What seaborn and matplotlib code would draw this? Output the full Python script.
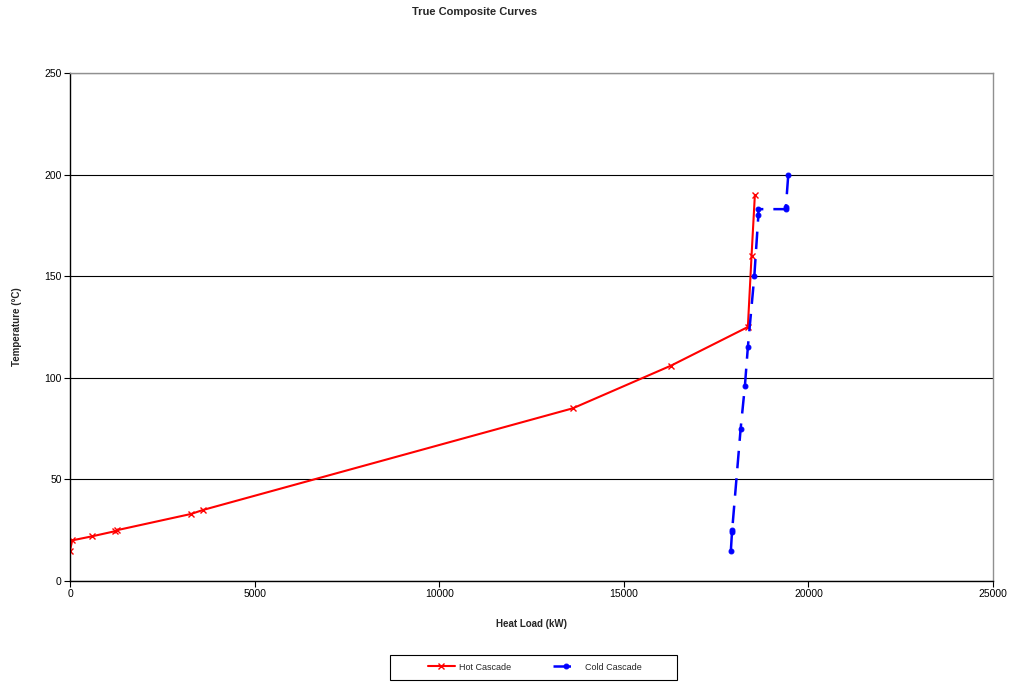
import matplotlib
matplotlib.use("Agg")
import matplotlib.pyplot as plt
from matplotlib.patches import Rectangle
import seaborn as sns
import pandas as pd

# Hot composite curve (heat load kW, temperature °C)
hot_load = [0, 60, 600, 1220, 1270, 3280, 3610, 13620, 16280, 18360, 18460, 18550]
hot_temp = [15, 20, 22, 24.5, 25, 33, 35, 85, 106, 125, 160, 190]

# Cold composite curve
cold_load = [17900, 17930, 17935, 18165, 18280, 18360, 18535, 18645, 18645, 19390, 19390, 19455]
cold_temp = [15, 24, 25, 75, 96, 115, 150, 180, 183, 183, 184, 200]

x_ticks = [0, 5000, 10000, 15000, 20000, 25000]
y_ticks = [0, 50, 100, 150, 200, 250]

sns.set_style("white")
plt.rcParams["font.family"] = ["Liberation Sans", "DejaVu Sans"]

hot = pd.DataFrame({"load": hot_load, "temp": hot_temp})
cold = pd.DataFrame({"load": cold_load, "temp": cold_temp})

fig = plt.figure(figsize=(10.09, 6.82), dpi=100)
ax = fig.add_axes([70 / 1009, 1 - 581 / 682, 923 / 1009, 508 / 682])

sns.lineplot(data=hot, x="load", y="temp", sort=False, estimator=None, ax=ax,
             color="#ff0000", linewidth=1.5, marker="x", markersize=5,
             markeredgewidth=1.0, markeredgecolor="#ff0000", label="Hot Cascade")
sns.lineplot(data=cold, x="load", y="temp", sort=False, estimator=None, ax=ax,
             color="#0000ff", linewidth=1.8, marker="o", markersize=3.5,
             markeredgecolor="#0000ff", label="Cold Cascade")
ax.lines[1].set_dashes([7, 4])

ax.set_xlim(0, 25000)
ax.set_ylim(0, 250)
ax.set_xticks(x_ticks)
ax.set_yticks(y_ticks)
ax.tick_params(axis="both", labelsize=7.5, length=4, width=0.8, direction="out",
               bottom=True, left=True, colors="black", pad=2)
ax.yaxis.grid(True, color="black", linewidth=0.8)
ax.xaxis.grid(False)
ax.set_axisbelow(True)

for side in ["top", "right"]:
    ax.spines[side].set_color("#909090")
    ax.spines[side].set_linewidth(1.0)
for side in ["left", "bottom"]:
    ax.spines[side].set_color("black")
    ax.spines[side].set_linewidth(1.0)

ax.set_xlabel("Heat Load (kW)", fontsize=7, fontweight="bold", labelpad=14)
ax.set_ylabel("Temperature (°C)", fontsize=7, fontweight="bold", labelpad=16)
fig.suptitle("True Composite Curves", x=475 / 1009, y=1 - 7 / 682,
             fontsize=8, fontweight="bold")

# Legend box below the plot area
fig.patches.append(Rectangle((390 / 1009, 1 - 680 / 682), 287 / 1009, 25 / 682,
                             transform=fig.transFigure, facecolor="none",
                             edgecolor="black", linewidth=0.8))
leg = ax.legend(loc="center", bbox_to_anchor=(534.5 / 1009, 1 - 667 / 682),
                bbox_transform=fig.transFigure, ncol=2, fontsize=6.5,
                frameon=False, columnspacing=4.6, handlelength=3.0,
                handletextpad=0.5)

fig.savefig("out.png", dpi=100)
